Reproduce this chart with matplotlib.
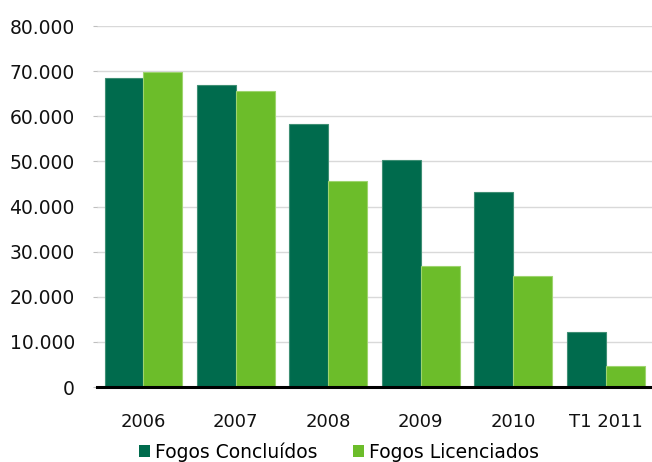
import matplotlib
matplotlib.use("Agg")
import matplotlib.pyplot as plt
import numpy as np
from matplotlib.ticker import FuncFormatter
from matplotlib.patches import Patch

categories = ["2006", "2007", "2008", "2009", "2010", "T1 2011"]
concluidos = [68400, 66900, 58200, 50400, 43300, 12200]
licenciados = [69900, 65600, 45600, 26900, 24700, 4700]
series_names = ["Fogos Concluídos", "Fogos Licenciados"]

dark = "#006b4d"
light = "#6cbd2a"

plt.rcParams["font.family"] = ["DejaVu Sans"]

fig = plt.figure(figsize=(6.52, 4.62), dpi=100)
ax = fig.add_axes([0.149, 0.1623, 0.851, 0.7814])

x = np.arange(len(categories))
w = 0.42
ax.bar(x - w / 2, concluidos, w, color=dark, edgecolor="#3f8f74", linewidth=0.8, zorder=3)
ax.bar(x + w / 2, licenciados, w, color=light, edgecolor="#9ed46e", linewidth=0.8, zorder=3)

ax.set_xlim(-0.5, len(categories) - 0.5)
ax.set_ylim(0, 80000)
ax.set_yticks(np.arange(0, 80001, 10000))
ax.yaxis.set_major_formatter(FuncFormatter(lambda v, p: f"{int(v):,}".replace(",", ".")))
ax.set_xticks(x)
ax.set_xticklabels(categories)

ax.grid(axis="y", color="#d9d9d9", linewidth=1, zorder=0)
for s in ["left", "right", "top"]:
    ax.spines[s].set_visible(False)
ax.spines["bottom"].set_color("black")
ax.spines["bottom"].set_linewidth(2.2)
ax.spines["bottom"].set_zorder(4)

ax.tick_params(axis="y", length=3, color="#bfbfbf", labelsize=13.5, pad=13, labelcolor="#111111")
ax.tick_params(axis="x", length=0, labelsize=13, pad=19, labelcolor="#111111")

handles = [Patch(facecolor=dark, edgecolor="none"), Patch(facecolor=light, edgecolor="none")]
fig.legend(handles, series_names, loc="center", bbox_to_anchor=(0.52, 0.022), ncol=2,
           frameon=False, fontsize=13.5, handlelength=0.6, handleheight=0.6,
           handletextpad=0.25, columnspacing=1.9)

fig.savefig("out.png", dpi=100)
